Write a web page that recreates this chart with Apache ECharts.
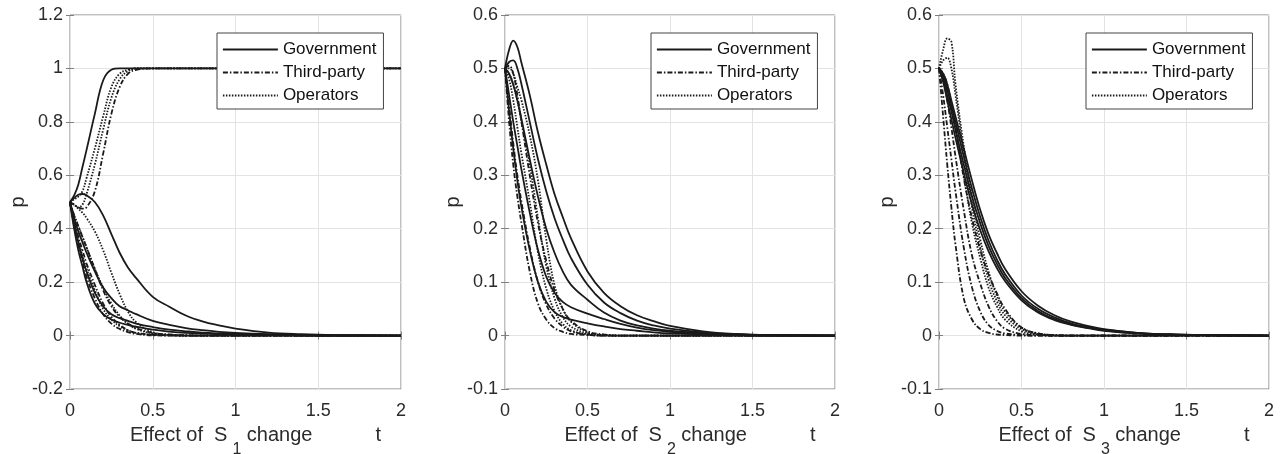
<!DOCTYPE html>
<html>
<head>
<meta charset="utf-8">
<script src="https://cdn.jsdelivr.net/npm/echarts@6/dist/echarts.min.js"></script>
<style>
html,body{margin:0;padding:0;background:#fff;}
#chart{width:1282px;height:454px;}
</style>
</head>
<body>
<div id="chart"></div>
<script>
// time samples shared by all curves
const T = [0,0.025,0.05,0.075,0.1,0.15,0.2,0.25,0.3,0.35,0.4,0.5,0.6,0.7,0.8,0.9,1.0,1.2,1.4,1.6,2.0];

const xTicks = [0, 0.5, 1, 1.5, 2];
const players = ['Government', 'Third-party', 'Operators'];
const panelSubs = ['1', '2', '3'];

// ---- Panel 1 : effect of S1 ----
const s1Gov = [
  [0.5,0.525,0.565,0.63,0.695,0.83,0.955,0.995,1,1,1,1,1,1,1,1,1,1,1,1,1],
  [0.5,0.515,0.527,0.53,0.525,0.5,0.45,0.38,0.31,0.255,0.215,0.145,0.108,0.075,0.053,0.038,0.026,0.011,0.005,0.002,0],
  [0.5,0.44,0.39,0.35,0.31,0.24,0.18,0.14,0.11,0.095,0.08,0.055,0.04,0.028,0.02,0.014,0.01,0.005,0.002,0.001,0],
  [0.5,0.42,0.35,0.29,0.24,0.16,0.11,0.08,0.065,0.055,0.045,0.032,0.022,0.016,0.011,0.008,0.006,0.003,0.001,0,0],
  [0.5,0.40,0.32,0.26,0.2,0.12,0.08,0.06,0.048,0.04,0.033,0.022,0.015,0.01,0.007,0.005,0.004,0.002,0.001,0,0]
];
const s1Third = [
  [0.5,0.49,0.48,0.475,0.48,0.54,0.68,0.83,0.93,0.98,0.995,1,1,1,1,1,1,1,1,1,1],
  [0.5,0.43,0.37,0.32,0.27,0.19,0.12,0.07,0.04,0.02,0.01,0.003,0.001,0,0,0,0,0,0,0,0],
  [0.5,0.45,0.41,0.37,0.33,0.25,0.17,0.11,0.07,0.045,0.028,0.01,0.004,0.001,0,0,0,0,0,0,0],
  [0.5,0.41,0.34,0.28,0.22,0.14,0.08,0.045,0.025,0.013,0.006,0.001,0,0,0,0,0,0,0,0,0]
];
const s1Oper = [
  [0.5,0.51,0.52,0.54,0.59,0.70,0.82,0.93,0.98,0.995,1,1,1,1,1,1,1,1,1,1,1],
  [0.5,0.49,0.48,0.49,0.53,0.64,0.77,0.89,0.96,0.99,1,1,1,1,1,1,1,1,1,1,1],
  [0.5,0.49,0.475,0.46,0.44,0.39,0.32,0.235,0.155,0.09,0.05,0.013,0.003,0.001,0,0,0,0,0,0,0],
  [0.5,0.45,0.41,0.37,0.33,0.25,0.18,0.12,0.075,0.045,0.025,0.008,0.002,0,0,0,0,0,0,0,0],
  [0.5,0.42,0.36,0.30,0.25,0.17,0.10,0.06,0.035,0.02,0.01,0.003,0.001,0,0,0,0,0,0,0,0]
];

// ---- Panel 2 : effect of S2 ----
const s2Gov = [
  [0.5,0.535,0.552,0.54,0.51,0.45,0.38,0.32,0.265,0.222,0.182,0.12,0.08,0.055,0.038,0.027,0.018,0.008,0.003,0.001,0],
  [0.5,0.512,0.515,0.5,0.47,0.40,0.33,0.27,0.22,0.18,0.145,0.095,0.062,0.042,0.028,0.019,0.013,0.006,0.002,0.001,0],
  [0.5,0.49,0.47,0.44,0.405,0.33,0.26,0.2,0.155,0.12,0.095,0.067,0.043,0.028,0.019,0.013,0.009,0.004,0.002,0.001,0],
  [0.5,0.45,0.40,0.355,0.31,0.23,0.16,0.11,0.08,0.063,0.053,0.041,0.031,0.022,0.015,0.01,0.007,0.003,0.001,0,0],
  [0.5,0.42,0.35,0.29,0.24,0.16,0.1,0.063,0.044,0.035,0.03,0.023,0.017,0.012,0.009,0.006,0.004,0.002,0.001,0,0]
];
const s2Third = [
  [0.5,0.40,0.32,0.26,0.21,0.12,0.06,0.03,0.014,0.007,0.003,0.001,0,0,0,0,0,0,0,0,0],
  [0.5,0.43,0.36,0.30,0.25,0.165,0.1,0.058,0.032,0.017,0.008,0.002,0,0,0,0,0,0,0,0,0],
  [0.5,0.505,0.49,0.45,0.4,0.3,0.21,0.14,0.085,0.05,0.028,0.008,0.002,0,0,0,0,0,0,0,0]
];
const s2Oper = [
  [0.5,0.5,0.49,0.465,0.44,0.375,0.29,0.18,0.095,0.05,0.026,0.006,0.001,0,0,0,0,0,0,0,0],
  [0.5,0.49,0.47,0.44,0.40,0.32,0.22,0.13,0.07,0.035,0.017,0.004,0.001,0,0,0,0,0,0,0,0],
  [0.5,0.48,0.44,0.39,0.34,0.25,0.155,0.088,0.046,0.022,0.01,0.002,0,0,0,0,0,0,0,0,0]
];

// ---- Panel 3 : effect of S3 ----
const s3Gov = [
  [0.5,0.49,0.47,0.44,0.41,0.35,0.29,0.235,0.19,0.155,0.125,0.083,0.056,0.038,0.026,0.018,0.012,0.005,0.002,0.001,0],
  [0.5,0.485,0.46,0.43,0.40,0.335,0.275,0.222,0.178,0.143,0.115,0.075,0.05,0.034,0.023,0.016,0.011,0.005,0.002,0.001,0],
  [0.5,0.48,0.45,0.42,0.385,0.32,0.26,0.21,0.168,0.135,0.108,0.07,0.046,0.031,0.021,0.015,0.01,0.004,0.002,0.001,0],
  [0.5,0.475,0.44,0.405,0.37,0.305,0.245,0.197,0.158,0.127,0.102,0.066,0.043,0.029,0.02,0.014,0.009,0.004,0.002,0.001,0]
];
const s3Third = [
  [0.5,0.41,0.32,0.24,0.17,0.07,0.03,0.012,0.005,0.002,0.001,0,0,0,0,0,0,0,0,0,0],
  [0.5,0.45,0.39,0.33,0.27,0.165,0.09,0.045,0.02,0.009,0.004,0.001,0,0,0,0,0,0,0,0,0],
  [0.5,0.48,0.44,0.39,0.335,0.235,0.15,0.097,0.055,0.028,0.013,0.003,0.001,0,0,0,0,0,0,0,0],
  [0.5,0.49,0.47,0.43,0.39,0.295,0.22,0.16,0.115,0.08,0.05,0.015,0.004,0.001,0,0,0,0,0,0,0]
];
const s3Oper = [
  [0.5,0.535,0.556,0.55,0.47,0.355,0.26,0.18,0.12,0.075,0.045,0.015,0.004,0.001,0,0,0,0,0,0,0],
  [0.5,0.515,0.52,0.5,0.45,0.34,0.24,0.165,0.105,0.065,0.038,0.012,0.003,0,0,0,0,0,0,0,0],
  [0.5,0.49,0.47,0.43,0.39,0.3,0.21,0.145,0.09,0.055,0.03,0.008,0.002,0,0,0,0,0,0,0,0]
];

const panels = [
  {gov: s1Gov, third: s1Third, oper: s1Oper, yMin: -0.2, yMax: 1.2, yInt: 0.2},
  {gov: s2Gov, third: s2Third, oper: s2Oper, yMin: -0.1, yMax: 0.6, yInt: 0.1},
  {gov: s3Gov, third: s3Third, oper: s3Oper, yMin: -0.1, yMax: 0.6, yInt: 0.1}
];

const grids = [
  {left: 70, top: 15, width: 331, height: 374},
  {left: 505, top: 15, width: 330, height: 374},
  {left: 939, top: 15, width: 330, height: 374}
];
const legendLeft = [217, 651, 1086];

const LINE = '#1a1a1a';
const TXT = '#2b2b2b';
const BOX = '#808080';
const GRIDC = '#e3e3e3';
const FONT = 'Liberation Sans, Arial, sans-serif';
const dashStyles = {
  'Government': 'solid',
  'Third-party': [5, 2, 1.5, 2],
  'Operators': [1.5, 1.5]
};

const option = {
  backgroundColor: '#fff',
  animation: false,
  grid: grids.map(g => Object.assign({
    show: true, borderColor: BOX, borderWidth: 1, backgroundColor: 'transparent',
    containLabel: false, outerBoundsMode: 'none'
  }, g)),
  legend: legendLeft.map(l => ({
    left: l, top: 33, orient: 'vertical',
    data: players,
    itemWidth: 55, itemHeight: 14, itemGap: 6,
    padding: [8, 7, 5, 5],
    borderColor: '#444', borderWidth: 1, borderRadius: 0,
    backgroundColor: '#fff',
    textStyle: {fontFamily: FONT, fontSize: 17, color: '#111'},
    itemStyle: {opacity: 0},
    lineStyle: {width: 1.8},
    selectedMode: false
  })),
  xAxis: [],
  yAxis: [],
  series: []
};

panels.forEach((p, i) => {
  option.xAxis.push({
    type: 'value', gridIndex: i, min: 0, max: 2, interval: 0.5,
    axisLine: {show: false},
    axisTick: {show: true, inside: true, length: 4, lineStyle: {color: BOX}},
    axisLabel: {fontFamily: FONT, fontSize: 18, color: TXT, margin: 13},
    splitLine: {show: true, lineStyle: {color: GRIDC, width: 1}},
    name: '{a|Effect of  S}{s|' + panelSubs[i] + '}{a| change}{g| }{a|t}',
    nameLocation: 'middle', nameGap: 23,
    nameTextStyle: {
      padding: [0, 0, 0, 40],
      rich: {
        a: {fontFamily: FONT, fontSize: 20, color: TXT},
        s: {fontFamily: FONT, fontSize: 16, color: TXT, padding: [30, 0, 0, 5]},
        g: {fontSize: 20, width: 63}
      }
    }
  });
  option.yAxis.push({
    type: 'value', gridIndex: i, min: p.yMin, max: p.yMax, interval: p.yInt,
    axisLine: {show: false},
    axisTick: {show: true, inside: true, length: 4, lineStyle: {color: BOX}},
    axisLabel: {fontFamily: FONT, fontSize: 18, color: TXT, margin: 7},
    splitLine: {show: true, lineStyle: {color: GRIDC, width: 1}},
    name: 'p', nameLocation: 'middle', nameGap: 42,
    nameTextStyle: {fontFamily: FONT, fontSize: 20, color: TXT}
  });
});
// mirrored ticks on top and right
panels.forEach((p, i) => {
  option.xAxis.push({
    type: 'value', gridIndex: i, position: 'top', min: 0, max: 2, interval: 0.5,
    axisLine: {show: false}, axisLabel: {show: false}, splitLine: {show: false},
    axisTick: {show: true, inside: true, length: 4, lineStyle: {color: BOX}}
  });
  option.yAxis.push({
    type: 'value', gridIndex: i, position: 'right', min: p.yMin, max: p.yMax, interval: p.yInt,
    axisLine: {show: false}, axisLabel: {show: false}, splitLine: {show: false},
    axisTick: {show: true, inside: true, length: 4, lineStyle: {color: BOX}}
  });
});

function addSeries(panelIdx, name, curves) {
  curves.forEach(vals => {
    option.series.push({
      type: 'line', name: name,
      xAxisIndex: panelIdx, yAxisIndex: panelIdx,
      data: T.map((t, k) => [t, vals[k]]),
      symbol: 'none', smooth: 0.4,
      lineStyle: {color: LINE, width: 1.8, type: dashStyles[name]},
      itemStyle: {color: LINE},
      z: 3
    });
  });
}
panels.forEach((p, i) => {
  addSeries(i, 'Operators', p.oper);
  addSeries(i, 'Third-party', p.third);
  addSeries(i, 'Government', p.gov);
});

const chart = echarts.init(document.getElementById('chart'), null, {renderer: 'canvas'});
chart.setOption(option);
</script>
</body>
</html>
